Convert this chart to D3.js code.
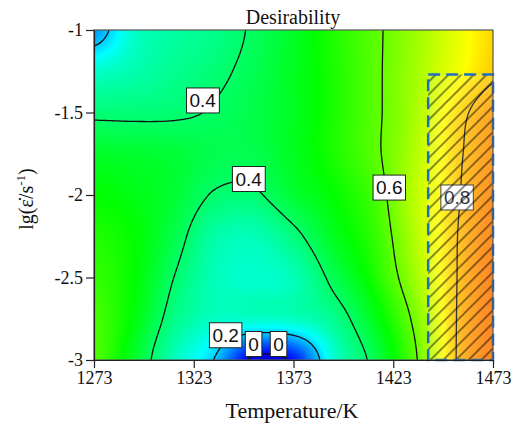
<!DOCTYPE html>
<html>
<head>
<meta charset="utf-8">
<script src="https://cdn.jsdelivr.net/npm/d3@7"></script>
<style>
  body { margin: 0; background: #fff; }
  svg text { font-family: "Liberation Serif", "Times New Roman", serif; fill: #111; }
  .clabel text { font-family: "Liberation Sans", Arial, sans-serif; }
</style>
</head>
<body>
<svg id="chart" width="520" height="426"></svg>
<script>
// grid columns (K) and rows (lg strain rate)
const temps = [1273, 1293, 1313, 1333, 1353, 1373, 1393, 1413, 1433, 1453, 1473];
const rates = [-1, -1.25, -1.5, -1.75, -2, -2.25, -2.5, -2.75, -3];

// desirability, one row per strain rate
const d100 = [0.15, 0.30, 0.34, 0.365, 0.41, 0.465, 0.53, 0.585, 0.65, 0.72, 0.78];
const d125 = [0.30, 0.33, 0.36, 0.385, 0.42, 0.47, 0.525, 0.585, 0.655, 0.73, 0.79];
const d150 = [0.385, 0.385, 0.39, 0.405, 0.43, 0.47, 0.525, 0.585, 0.66, 0.77, 0.83];
const d175 = [0.46, 0.455, 0.445, 0.425, 0.425, 0.47, 0.525, 0.585, 0.67, 0.78, 0.84];
const d200 = [0.50, 0.48, 0.45, 0.395, 0.39, 0.45, 0.50, 0.565, 0.68, 0.785, 0.85];
const d225 = [0.53, 0.50, 0.43, 0.34, 0.32, 0.38, 0.47, 0.545, 0.67, 0.79, 0.855];
const d250 = [0.55, 0.50, 0.40, 0.32, 0.30, 0.32, 0.42, 0.52, 0.65, 0.79, 0.86];
const d275 = [0.57, 0.49, 0.37, 0.31, 0.30, 0.31, 0.36, 0.47, 0.61, 0.79, 0.86];
const d300 = [0.58, 0.46, 0.32, 0.20, -0.02, 0.02, 0.29, 0.42, 0.58, 0.79, 0.86];
const grid = [d100, d125, d150, d175, d200, d225, d250, d275, d300];

const contourLevels = [0, 0.2, 0.4, 0.6, 0.8];
const contourLabels = [
  { text: "0.4", t: 1327.5, r: -1.427 },
  { text: "0.4", t: 1350.5, r: -1.903 },
  { text: "0.6", t: 1421, r: -1.955 },
  { text: "0.8", t: 1455, r: -2.015 },
  { text: "0.2", t: 1339, r: -2.85 },
  { text: "0", t: 1353, r: -2.903 },
  { text: "0", t: 1365.5, r: -2.903 }
];
const hatchT = [1440.5, 1473];
const hatchR = [-1.27, -3];
const xTicks = [1273, 1323, 1373, 1423, 1473];
const yTicks = [-1, -1.5, -2, -2.5, -3];

const mLeft = 94, mRight = 493, mTop = 30, mBottom = 360;
const svg = d3.select("#chart");

const x = d3.scaleLinear().domain([1273, 1473]).range([mLeft, mRight]);
const y = d3.scaleLinear().domain([-1, -3]).range([mTop, mBottom]);

const color = d3.scaleLinear()
  .domain([-0.1, 0, 0.25, 0.5, 0.75, 0.95])
  .range(["#000090", "#0000ff", "#00ffff", "#00ff00", "#ffff00", "#ff0000"])
  .clamp(true);

// smooth the grid for drawing (catmull-rom)
function cubic(p0, p1, p2, p3, t) {
  return p1 + 0.5 * t * (p2 - p0 + t * (2 * p0 - 5 * p1 + 4 * p2 - p3 + t * (3 * (p1 - p2) + p3 - p0)));
}
function at(i, j) {
  i = Math.max(0, Math.min(temps.length - 1, i));
  j = Math.max(0, Math.min(rates.length - 1, j));
  return grid[j][i];
}
function field(T, r) {
  let fx = (T - temps[0]) / (temps[1] - temps[0]);
  let fy = (r - rates[0]) / (rates[1] - rates[0]);
  fx = Math.max(0, Math.min(temps.length - 1, fx));
  fy = Math.max(0, Math.min(rates.length - 1, fy));
  const i = Math.min(Math.floor(fx), temps.length - 2);
  const j = Math.min(Math.floor(fy), rates.length - 2);
  const tx = fx - i, ty = fy - j;
  const rows = [-1, 0, 1, 2].map(dj =>
    cubic(at(i - 1, j + dj), at(i, j + dj), at(i + 1, j + dj), at(i + 2, j + dj), tx));
  return cubic(rows[0], rows[1], rows[2], rows[3], ty);
}

// colour raster
const w = mRight - mLeft, h = mBottom - mTop;
const canvas = document.createElement("canvas");
canvas.width = w; canvas.height = h;
const ctx = canvas.getContext("2d");
const img = ctx.createImageData(w, h);
for (let py = 0; py < h; py++) {
  const r = y.invert(mTop + py + 0.5);
  for (let px = 0; px < w; px++) {
    const c = d3.rgb(color(field(x.invert(mLeft + px + 0.5), r)));
    const k = (py * w + px) * 4;
    img.data[k] = c.r; img.data[k + 1] = c.g; img.data[k + 2] = c.b; img.data[k + 3] = 255;
  }
}
ctx.putImageData(img, 0, 0);

const defs = svg.append("defs");
defs.append("clipPath").attr("id", "plotClip")
  .append("rect").attr("x", mLeft).attr("y", mTop).attr("width", w).attr("height", h);

const hatch = defs.append("pattern").attr("id", "hatch")
  .attr("patternUnits", "userSpaceOnUse")
  .attr("width", 9).attr("height", 9)
  .attr("patternTransform", "rotate(45)");
hatch.append("rect").attr("width", 9).attr("height", 9).attr("fill", "#fff").attr("fill-opacity", 0.15);
hatch.append("line").attr("x1", 0).attr("y1", 0).attr("x2", 0).attr("y2", 9)
  .attr("stroke", "#000").attr("stroke-opacity", 0.5).attr("stroke-width", 3.5);

svg.append("image")
  .attr("x", mLeft).attr("y", mTop).attr("width", w).attr("height", h)
  .attr("preserveAspectRatio", "none")
  .attr("href", canvas.toDataURL());

// contour lines
const pad = 2, stepT = 1, stepR = 0.0125;
const nx = Math.round((1473 - 1273) / stepT) + 1 + 2 * pad;
const ny = Math.round(2 / stepR) + 1 + 2 * pad;
const values = new Array(nx * ny);
for (let gy = 0; gy < ny; gy++) {
  for (let gx = 0; gx < nx; gx++) {
    values[gy * nx + gx] = field(1273 + (gx - pad) * stepT, -1 - (gy - pad) * stepR);
  }
}
const contours = d3.contours().size([nx, ny]).thresholds(contourLevels)(values);
const proj = d3.geoTransform({
  point: function (px, py) {
    this.stream.point(x(1273 + (px - 0.5 - pad) * stepT), y(-1 - (py - 0.5 - pad) * stepR));
  }
});
const path = d3.geoPath().projection(proj);

svg.append("g").attr("clip-path", "url(#plotClip)")
  .selectAll("path")
  .data(contours)
  .enter()
  .append("path")
  .attr("d", path)
  .attr("fill", "none")
  .attr("stroke", "#111")
  .attr("stroke-width", 1.3);

// contour labels
const lab = svg.append("g").attr("class", "clabel")
  .selectAll("g")
  .data(contourLabels)
  .enter()
  .append("g")
  .attr("transform", d => `translate(${x(d.t)},${y(d.r)})`);
lab.append("text")
  .attr("text-anchor", "middle")
  .attr("dy", "0.36em")
  .attr("font-size", 19)
  .text(d => d.text);
lab.each(function () {
  const g = d3.select(this);
  const bb = g.select("text").node().getBBox();
  g.insert("rect", "text")
    .attr("x", bb.x - 3).attr("y", -12.5)
    .attr("width", bb.width + 6).attr("height", 25)
    .attr("fill", "#fff").attr("stroke", "#222").attr("stroke-width", 1);
});

// hatched optimum window
svg.append("rect")
  .attr("x", x(hatchT[0])).attr("y", y(hatchR[0]))
  .attr("width", x(hatchT[1]) - x(hatchT[0]))
  .attr("height", y(hatchR[1]) - y(hatchR[0]))
  .attr("fill", "url(#hatch)");
svg.append("rect")
  .attr("x", x(hatchT[0])).attr("y", y(hatchR[0]))
  .attr("width", x(hatchT[1]) - x(hatchT[0]))
  .attr("height", y(hatchR[1]) - y(hatchR[0]))
  .attr("fill", "none")
  .attr("stroke", "#1f6fc0")
  .attr("stroke-width", 2.5)
  .attr("stroke-dasharray", "12,6");

// frame and axes
svg.append("rect")
  .attr("x", mLeft).attr("y", mTop).attr("width", w).attr("height", h)
  .attr("fill", "none").attr("stroke", "#555").attr("stroke-width", 1.2);

const xAxis = svg.append("g")
  .attr("transform", `translate(0,${mBottom})`)
  .call(d3.axisBottom(x).tickValues(xTicks).tickFormat(d => String(d)).tickSize(8).tickSizeOuter(0).tickPadding(3));
const yAxis = svg.append("g")
  .attr("transform", `translate(${mLeft},0)`)
  .call(d3.axisLeft(y).tickValues(yTicks).tickFormat(d => String(d)).tickSize(8).tickSizeOuter(0).tickPadding(3));
[xAxis, yAxis].forEach(a => {
  a.attr("font-family", null).attr("font-size", null);
  a.selectAll("text").attr("font-size", 18).attr("fill", "#111");
  a.selectAll("line, path").attr("stroke", "#222").attr("stroke-width", 1.2);
});

svg.append("text")
  .attr("x", 293).attr("y", 24)
  .attr("text-anchor", "middle")
  .attr("font-size", 20)
  .text("Desirability");

svg.append("text")
  .attr("x", 292).attr("y", 418)
  .attr("text-anchor", "middle")
  .attr("font-size", 22)
  .text("Temperature/K");

const yl = svg.append("text")
  .attr("transform", "translate(33,199) rotate(-90)")
  .attr("text-anchor", "middle")
  .attr("font-size", 20);
yl.append("tspan").text("lg(\u03B5\u0307/s");
yl.append("tspan").attr("font-size", 13).attr("dy", -8).text("-1");
yl.append("tspan").attr("dy", 8).text(")");
</script>
</body>
</html>
